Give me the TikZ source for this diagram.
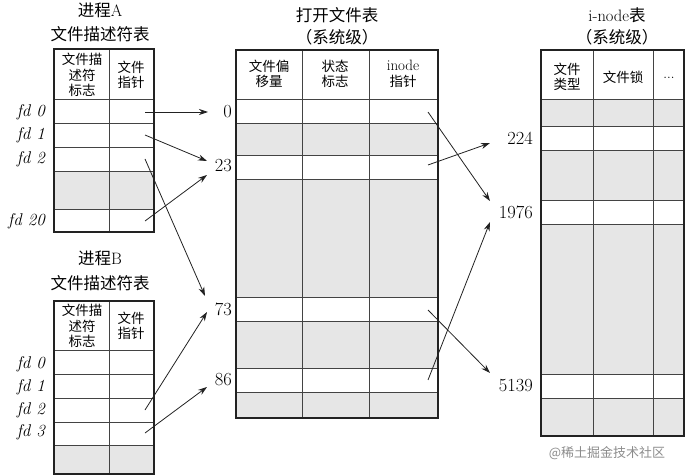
\documentclass[tikz,border=0pt]{standalone}
\usepackage{fontspec}
\newfontfamily\cjk{Noto Sans CJK SC}
\usetikzlibrary{arrows.meta}
\definecolor{cellgray}{HTML}{E6E6E6}
\definecolor{ink}{HTML}{222222}
\tikzset{
  title/.style={font=\cjk\fontsize{16.5}{18}\selectfont, inner sep=0pt},
  hdr/.style={font=\cjk\fontsize{13.5}{15.5}\selectfont, align=center, inner sep=0pt},
  fdlab/.style={font=\fontsize{17}{18}\selectfont\itshape, anchor=east, inner sep=0pt},
  numlab/.style={font=\fontsize{18.5}{20}\selectfont, anchor=east, inner sep=0pt},
  outer/.style={draw=ink, line width=1.6pt},
  inner/.style={draw=ink!85, line width=0.8pt},
  ptr/.style={draw=ink, line width=0.8pt, -{Stealth[length=9pt,width=6pt]}},
  gcell/.style={fill=cellgray, draw=none}
}
\begin{document}
\begin{tikzpicture}[x=1pt,y=-1pt]
\useasboundingbox (0,0) rectangle (686,476);

% ---------- Table A ----------
\node[title] (tA1) at (100,10) {进程\rmfamily A};
\node[title] (tA2) at (100,34) {文件描述符表};
\fill[gcell] (54,171) rectangle (154,209);
\foreach \y in {99,123,147,171,209} \draw[inner] (54,\y) -- (154,\y);
\draw[inner] (109,49) -- (109,232);
\draw[outer] (54,49) rectangle (154,232);
\node[hdr] (hA1) at (82,75) {文件描\\述符\\标志};
\node[hdr] (hA2) at (131,75) {文件\\指针};
\node[fdlab] (fA0) at (45,112) {fd 0};
\node[fdlab] (fA1) at (45,135) {fd 1};
\node[fdlab] (fA2) at (45,159) {fd 2};
\node[fdlab] (fA20) at (45,221) {fd 20};
\coordinate (pA0) at (145,112);
\coordinate (pA1) at (145,135);
\coordinate (pA2) at (145,159);
\coordinate (pA20) at (145,221);

% ---------- Table B ----------
\node[title] (tB1) at (100,258) {进程\rmfamily B};
\node[title] (tB2) at (100,283) {文件描述符表};
\fill[gcell] (54,445) rectangle (154,474);
\foreach \y in {350,374,398,422,445} \draw[inner] (54,\y) -- (154,\y);
\draw[inner] (109,301) -- (109,474);
\draw[outer] (54,301) rectangle (154,474);
\node[hdr] (hB1) at (82,326) {文件描\\述符\\标志};
\node[hdr] (hB2) at (131,326) {文件\\指针};
\node[fdlab] (fB0) at (45,364) {fd 0};
\node[fdlab] (fB1) at (45,387) {fd 1};
\node[fdlab] (fB2) at (45,410) {fd 2};
\node[fdlab] (fB3) at (45,432) {fd 3};
\coordinate (pB2) at (145,410);
\coordinate (pB3) at (145,433);

% ---------- Open file table ----------
\node[title] (tO1) at (337,15) {打开文件表};
\node[title] (tO2) at (337,37) {（系统级）};
\fill[gcell] (236,123) rectangle (438,155);
\fill[gcell] (236,179) rectangle (438,297);
\fill[gcell] (236,321) rectangle (438,368);
\fill[gcell] (236,392) rectangle (438,418);
\foreach \y in {99,123,155,179,297,321,368,392} \draw[inner] (236,\y) -- (438,\y);
\draw[inner] (302,50) -- (302,418);
\draw[inner] (369,50) -- (369,418);
\draw[outer] (236,50) rectangle (438,418);
\node[hdr] (hO1) at (269,74) {文件偏\\移量};
\node[hdr] (hO2) at (335,74) {状态\\标志};
\node[hdr] (hO3) at (403,74) {{\rmfamily\fontsize{15}{15.5}\selectfont inode}\\指针};
\node[numlab] (n0) at (232,112) {0};
\node[numlab] (n23) at (232,166) {23};
\node[numlab] (n73) at (232,309) {73};
\node[numlab] (n86) at (232,380) {86};
\coordinate (q0) at (428,112);
\coordinate (q23) at (428,165);
\coordinate (q73) at (428,310);
\coordinate (q86) at (428,380);

% ---------- i-node table ----------
\node[title] (tI1) at (617,15) {\rmfamily\fontsize{16.5}{18}\selectfont i-node\cjk 表};
\node[title] (tI2) at (617,37) {（系统级）};
\fill[gcell] (541,99) rectangle (684,126);
\fill[gcell] (541,150) rectangle (684,200);
\fill[gcell] (541,224) rectangle (684,374);
\fill[gcell] (541,398) rectangle (684,436);
\foreach \y in {99,126,150,200,224,374,398} \draw[inner] (541,\y) -- (684,\y);
\draw[inner] (593,50) -- (593,436);
\draw[inner] (653,50) -- (653,436);
\draw[outer] (541,50) rectangle (684,436);
\node[hdr] (hI1) at (567,77) {文件\\类型};
\node[hdr] (hI2) at (623,77) {文件锁};
\node[hdr] (hI3) at (669,78) {\rmfamily ...};
\node[numlab] (i224) at (533,138) {224};
\node[numlab] (i1976) at (533,212) {1976};
\node[numlab] (i5139) at (533,386) {5139};

% ---------- arrow tips ----------
\coordinate (t0) at (208,112);
\coordinate (t23a) at (207,161);
\coordinate (t23b) at (207,175);
\coordinate (t73a) at (205,296);
\coordinate (t73b) at (207,312);
\coordinate (t86) at (207,387);
\coordinate (u224) at (490,143);
\coordinate (u1976a) at (490,201);
\coordinate (u1976b) at (490,222);
\coordinate (u5139) at (490,373);

\draw[ptr] (pA0) -- (t0);
\draw[ptr] (pA1) -- (t23a);
\draw[ptr] (pA20) -- (t23b);
\draw[ptr] (pA2) -- (t73a);
\draw[ptr] (pB2) -- (t73b);
\draw[ptr] (pB3) -- (t86);
\draw[ptr] (q0) -- (u1976a);
\draw[ptr] (q23) -- (u224);
\draw[ptr] (q73) -- (u5139);
\draw[ptr] (q86) -- (u1976b);

% ---------- watermark ----------
\node[font=\cjk\fontsize{13}{14}\selectfont, text=black!45, inner sep=0pt] (wm) at (607,453) {@稀土掘金技术社区};
\end{tikzpicture}
\end{document}
